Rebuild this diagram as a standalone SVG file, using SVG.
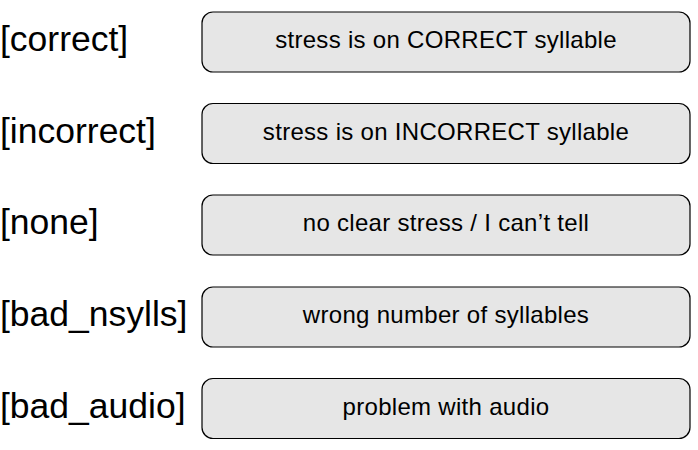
<svg xmlns="http://www.w3.org/2000/svg" width="698" height="450" viewBox="0 0 698 450">
<style>
.box{fill:#e6e6e6;stroke:#000;stroke-width:1.2}
.lbl{font-family:"Liberation Sans",Arial,sans-serif;font-size:35.5px;fill:#000}
.txt{font-family:"Liberation Sans",Arial,sans-serif;font-size:24px;fill:#000;text-anchor:middle;letter-spacing:0.3px}
</style>
<rect width="698" height="450" fill="#fff"/>
<g id="correct">
<text class="lbl" x="0" y="51">[correct]</text>
<rect class="box" x="202" y="12" width="488" height="60" rx="11"/>
<text class="txt" x="446" y="48">stress is on CORRECT syllable</text>
</g>
<g id="incorrect">
<text class="lbl" x="0" y="142.5">[incorrect]</text>
<rect class="box" x="202" y="103.5" width="488" height="60" rx="11"/>
<text class="txt" x="446" y="139.5">stress is on INCORRECT syllable</text>
</g>
<g id="none">
<text class="lbl" x="0" y="234">[none]</text>
<rect class="box" x="202" y="195" width="488" height="60" rx="11"/>
<text class="txt" x="446" y="231">no clear stress / I can’t tell</text>
</g>
<g id="bad_nsylls">
<text class="lbl" x="0" y="326">[bad_nsylls]</text>
<rect class="box" x="202" y="287" width="488" height="60" rx="11"/>
<text class="txt" x="446" y="323">wrong number of syllables</text>
</g>
<g id="bad_audio">
<text class="lbl" x="0" y="417.5">[bad_audio]</text>
<rect class="box" x="202" y="378.5" width="488" height="60" rx="11"/>
<text class="txt" x="446" y="414.5">problem with audio</text>
</g>
<g id="connectors"></g>
</svg>
